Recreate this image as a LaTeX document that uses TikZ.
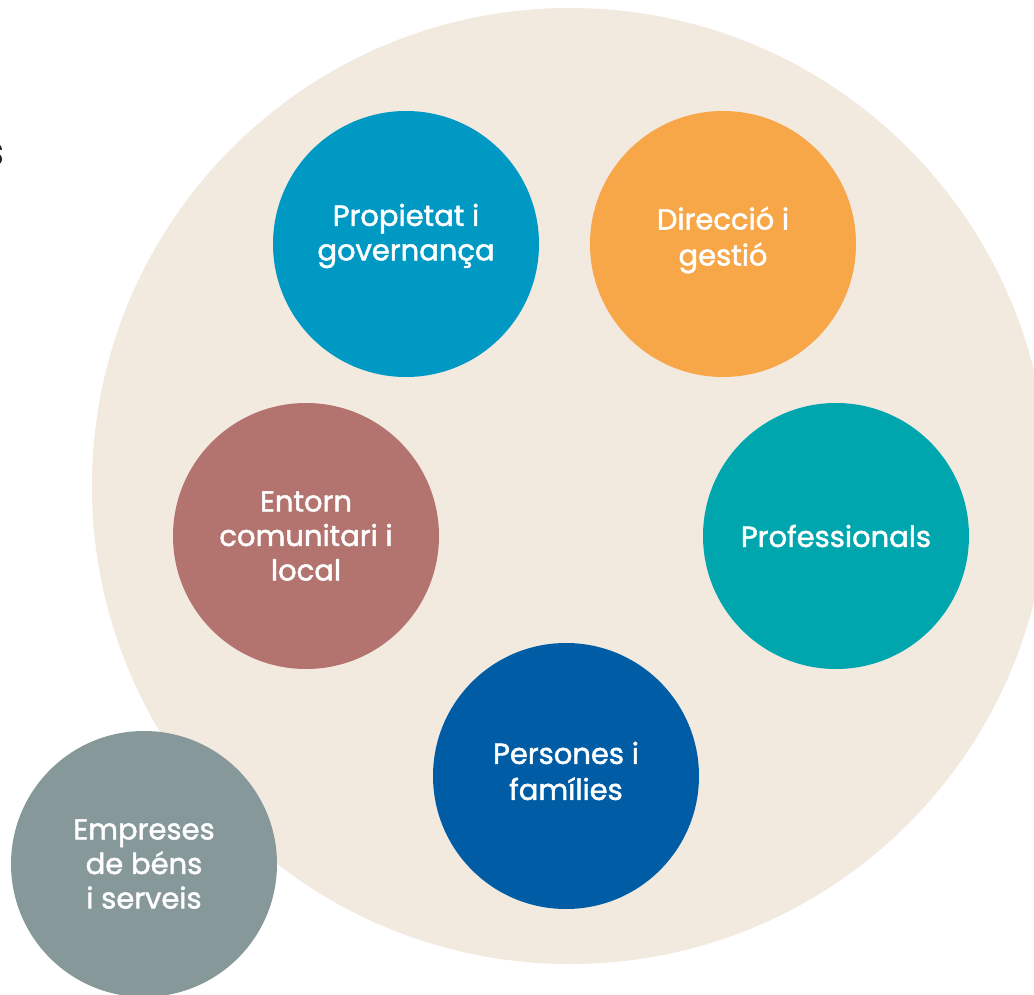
\documentclass[tikz,border=0pt]{standalone}
\usepackage{fontspec}
\setmainfont{Poppins}[FakeBold=1.7]
\definecolor{bigc}{HTML}{F2E9DF}
\definecolor{propc}{HTML}{0099C3}
\definecolor{dirc}{HTML}{F7A648}
\definecolor{entc}{HTML}{B37470}
\definecolor{profc}{HTML}{00A6AD}
\definecolor{persc}{HTML}{005DA5}
\definecolor{empc}{HTML}{87989B}
\definecolor{inkc}{HTML}{231F20}
\tikzset{
  bubble/.style={circle, minimum size=266pt, inner sep=0pt, text=white, align=center,
    font=\fontsize{29}{34.5}\selectfont},
  label text/.style={text=white, align=center, inner sep=0pt, font=\fontsize{29}{36}\selectfont},
}
\begin{document}
\begin{tikzpicture}[x=1pt,y=-1pt]
\useasboundingbox (0,0) rectangle (1034,995);
\clip (0,0) rectangle (1034,995);
\fill[white] (0,0) rectangle (1034,995);
\node[circle, fill=bigc, minimum size=956pt, inner sep=0pt] (big) at (570,486) {};
\node[bubble, fill=propc] (prop) at (406,244) {};
\node[label text, font=\fontsize{29}{34.5}\selectfont] (propt) at (406,236) {Propietat i\\governança};
\node[bubble, fill=dirc] (dir) at (723,244) {};
\node[label text] (dirt) at (723,240) {Direcció i\\gestió};
\node[bubble, fill=entc] (ent) at (306,536) {Entorn\\comunitari i\\local};
\node[bubble, fill=profc] (prof) at (836,536) {Professionals};
\node[bubble, fill=persc] (pers) at (566,776) {};
\node[label text] (perst) at (566,771) {Persones i\\famílies};
\node[bubble, fill=empc] (emp) at (144,864) {Empreses\\de béns\\i serveis};
\node[anchor=base east, inner sep=0pt, text=inkc, font=\fontsize{40}{40}\selectfont] (frag) at (4,165) {s};
\end{tikzpicture}
\end{document}
